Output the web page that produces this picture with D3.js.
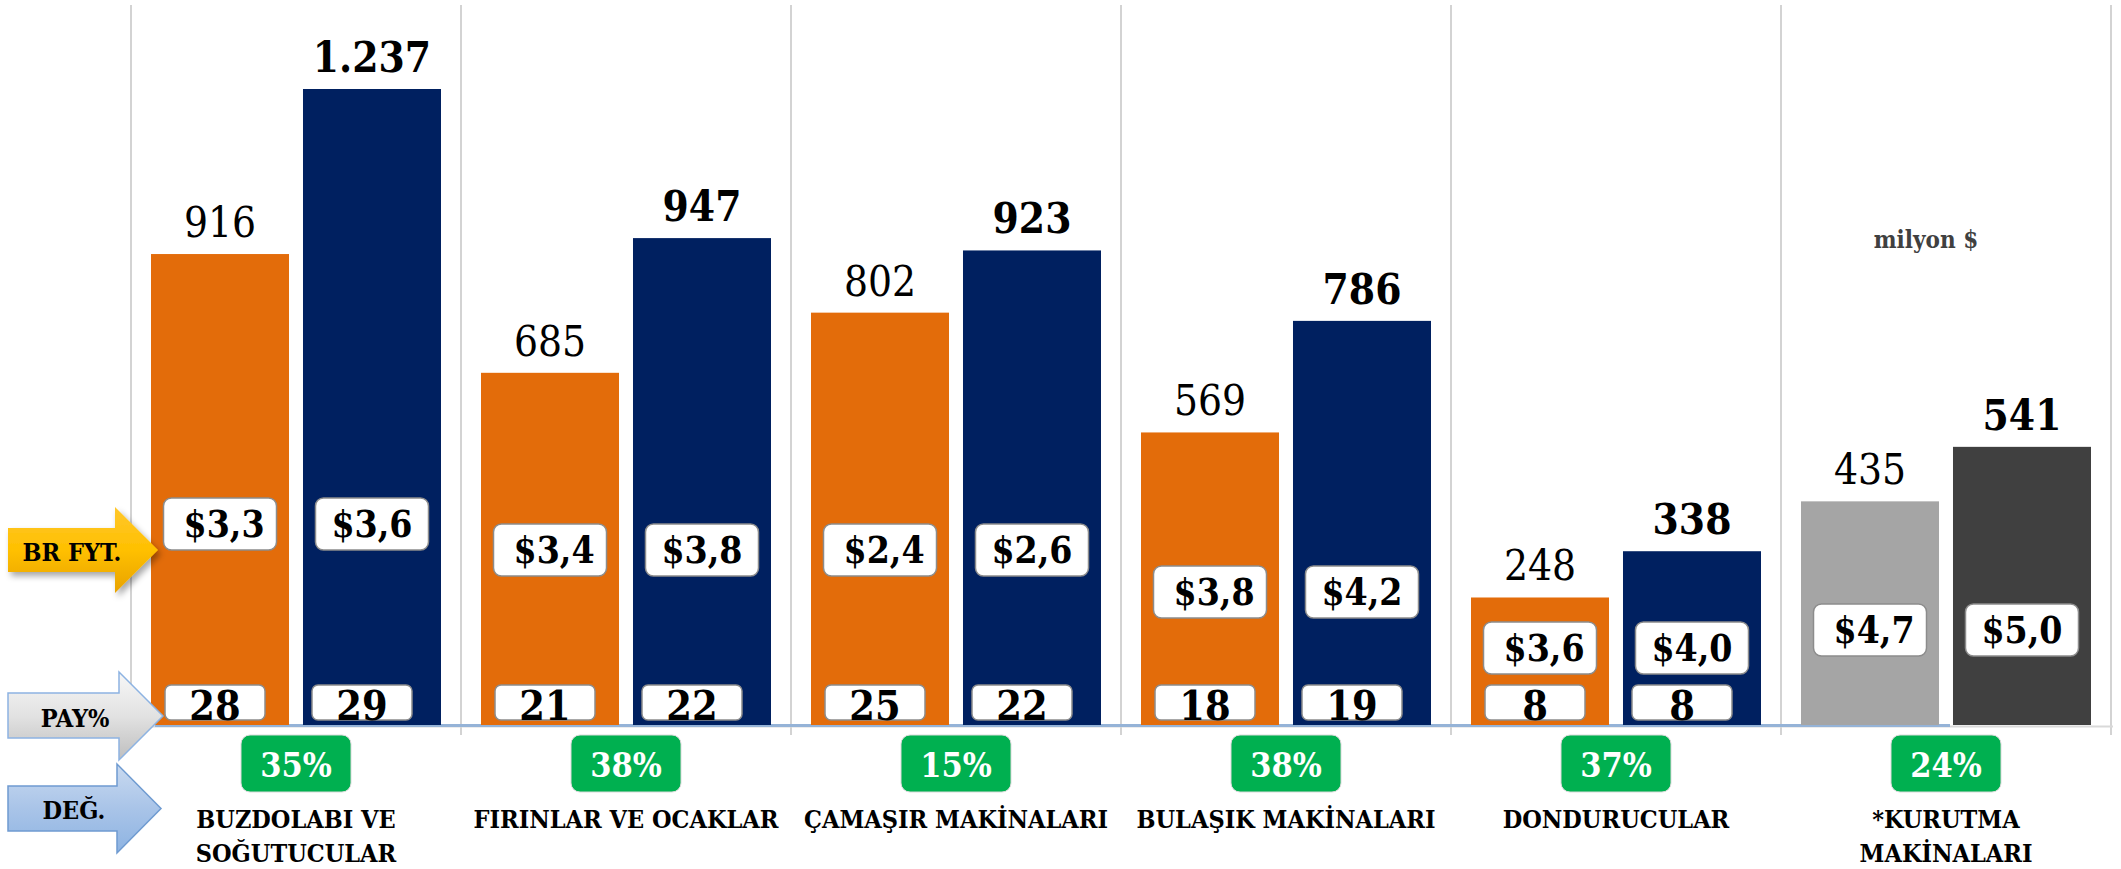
<!DOCTYPE html>
<html>
<head>
<meta charset="utf-8">
<script src="https://cdn.jsdelivr.net/npm/d3@7"></script>
<style>
  html, body { margin: 0; padding: 0; background: #ffffff; }
  svg { display: block; }
  text { font-family: "DejaVu Serif Condensed", "DejaVu Serif", serif; font-stretch: condensed; }
</style>
</head>
<body>
<svg id="chart" width="2121" height="869"></svg>
<script>
// ---------------- DATA ----------------
const categories = ["BUZDOLABI VE SOĞUTUCULAR", "FIRINLAR VE OCAKLAR", "ÇAMAŞIR MAKİNALARI", "BULAŞIK MAKİNALARI", "DONDURUCULAR", "*KURUTMA MAKİNALARI"];
const categoryLines = [["BUZDOLABI VE", "SOĞUTUCULAR"], ["FIRINLAR VE OCAKLAR"], ["ÇAMAŞIR MAKİNALARI"], ["BULAŞIK MAKİNALARI"], ["DONDURUCULAR"], ["*KURUTMA", "MAKİNALARI"]];
const series = ["prev", "curr"];
const valuesPrev = [916, 685, 802, 569, 248, 435];
const valuesCurr = [1237, 947, 923, 786, 338, 541];
const pricePrev = [3.3, 3.4, 2.4, 3.8, 3.6, 4.7];
const priceCurr = [3.6, 3.8, 2.6, 4.2, 4.0, 5.0];
const sharePrev = [28, 21, 25, 18, 8, null];
const shareCurr = [29, 22, 22, 19, 8, null];
const changePct = [35, 38, 15, 38, 37, 24];
const sideLabels = ["BR FYT.", "PAY%", "DEĞ."];
const unitLabel = "milyon $";

// ---------------- LAYOUT ----------------
const W = 2121, H = 869;
const baseY = 725;
const colorPrev = ["#E36C0A", "#E36C0A", "#E36C0A", "#E36C0A", "#E36C0A", "#A5A5A5"];
const colorCurr = ["#002060", "#002060", "#002060", "#002060", "#002060", "#404040"];
const priceBoxCenterY = [524, 550, 550, 592, 648, 630]; // label placement (px)

const svg = d3.select("#chart");
const defs = svg.append("defs");

const x0 = d3.scaleBand().domain(categories).range([131, 2111]).padding(0);
const x1 = d3.scaleBand().domain(series).range([0, x0.bandwidth()]).paddingInner(0.092).paddingOuter(0.1316);
const y = d3.scaleLinear().domain([0, 1237]).range([baseY, 89]);

// gradients
function vgrad(id, stops) {
  const g = defs.append("linearGradient").attr("id", id).attr("x1", 0).attr("y1", 0).attr("x2", 0).attr("y2", 1);
  stops.forEach(s => g.append("stop").attr("offset", s[0]).attr("stop-color", s[1]));
}
vgrad("gYellow", [[0, "#FFC72C"], [0.5, "#FFC000"], [1, "#E8A200"]]);
vgrad("gGray", [[0, "#F7F7F7"], [0.5, "#E2E2E2"], [1, "#BEBEBE"]]);
vgrad("gBlue", [[0, "#C9DAF0"], [0.5, "#A9C4E8"], [1, "#8DB3E2"]]);
const shadow = defs.append("filter").attr("id", "shadow").attr("x", "-20%").attr("y", "-20%").attr("width", "150%").attr("height", "150%");
shadow.append("feDropShadow").attr("dx", 3).attr("dy", 4).attr("stdDeviation", 3).attr("flood-color", "#000").attr("flood-opacity", 0.35);

// gridlines (category separators)
const bounds = categories.map(c => x0(c)).concat([x0(categories[categories.length - 1]) + x0.bandwidth()]);
svg.append("g").selectAll("line").data(bounds).join("line")
  .attr("x1", d => d).attr("x2", d => d)
  .attr("y1", 5).attr("y2", 735)
  .attr("stroke", "#C4C4C4").attr("stroke-width", 1.5);

// axis base line (gray) + blue connector line
svg.append("line").attr("x1", 131).attr("x2", 2113).attr("y1", 726.5).attr("y2", 726.5)
  .attr("stroke", "#D9D9D9").attr("stroke-width", 2);
svg.append("line").attr("x1", 155).attr("x2", 1950).attr("y1", 725.5).attr("y2", 725.5)
  .attr("stroke", "#95B3D7").attr("stroke-width", 3);

// bars
const rows = categories.map((c, i) => ({
  cat: c, i,
  bars: [
    { key: "prev", v: valuesPrev[i], price: pricePrev[i], share: sharePrev[i], color: colorPrev[i] },
    { key: "curr", v: valuesCurr[i], price: priceCurr[i], share: shareCurr[i], color: colorCurr[i] }
  ]
}));

const gCat = svg.append("g").selectAll("g.cat").data(rows).join("g")
  .attr("class", "cat")
  .attr("transform", d => `translate(${x0(d.cat)},0)`);

const gBar = gCat.selectAll("g.bar").data(d => d.bars.map(b => Object.assign({ i: d.i }, b))).join("g").attr("class", "bar");

gBar.append("rect")
  .attr("x", d => x1(d.key))
  .attr("width", x1.bandwidth())
  .attr("y", d => y(d.v))
  .attr("height", d => baseY - y(d.v))
  .attr("fill", d => d.color);

// value labels
const fmtThousands = v => d3.format(",")(v).replace(/,/g, ".");
gBar.append("text")
  .attr("x", d => x1(d.key) + x1.bandwidth() / 2)
  .attr("y", d => y(d.v) - 17)
  .attr("text-anchor", "middle")
  .attr("font-size", 42)
  .attr("font-weight", d => d.key === "curr" ? "bold" : "normal")
  .attr("fill", "#000")
  .text(d => fmtThousands(d.v));

// price boxes
const boxW = 113, boxH = 52;
const gPrice = gBar.append("g")
  .attr("transform", d => `translate(${x1(d.key) + x1.bandwidth() / 2},${priceBoxCenterY[d.i]})`);
gPrice.append("rect")
  .attr("x", -boxW / 2).attr("y", -boxH / 2).attr("width", boxW).attr("height", boxH)
  .attr("rx", 8).attr("fill", "#fff").attr("stroke", "#8C8C8C").attr("stroke-width", 1.5);
gPrice.append("text")
  .attr("text-anchor", "middle").attr("y", 13).attr("x", d => d.key === "prev" ? 4 : 0)
  .attr("font-size", 37).attr("font-weight", "bold").attr("fill", "#000")
  .text(d => "$" + d3.format(".1f")(d.price).replace(".", ","));

// share boxes
const shW = 100, shH = 35;
const gShare = gBar.filter(d => d.share != null).append("g")
  .attr("transform", d => `translate(${x1(d.key) + x1.bandwidth() / 2 + (d.key === "prev" ? -5 : -10)},${702.5})`);
gShare.append("rect")
  .attr("x", -shW / 2).attr("y", -shH / 2).attr("width", shW).attr("height", shH)
  .attr("rx", 6).attr("fill", "#fff").attr("stroke", "#8C8C8C").attr("stroke-width", 1.5);
gShare.append("text")
  .attr("text-anchor", "middle").attr("y", 17)
  .attr("font-size", 41).attr("font-weight", "bold").attr("fill", "#000")
  .text(d => d.share);

// change (green) boxes
const gChg = gCat.append("g").attr("transform", `translate(${x0.bandwidth() / 2},763.5)`);
gChg.append("rect")
  .attr("x", -55).attr("y", -28.5).attr("width", 110).attr("height", 57)
  .attr("rx", 9).attr("fill", "#00B050").attr("stroke", "#DADADA").attr("stroke-width", 1);
gChg.append("text")
  .attr("text-anchor", "middle").attr("y", 13)
  .attr("font-size", 34).attr("font-weight", "bold").attr("fill", "#fff")
  .text(d => changePct[d.i] + "%");

// category labels
gCat.append("text")
  .attr("text-anchor", "middle")
  .attr("font-size", 25).attr("font-weight", "bold").attr("fill", "#000")
  .selectAll("tspan").data(d => categoryLines[d.i]).join("tspan")
  .attr("x", x0.bandwidth() / 2)
  .attr("y", (d, k) => 828 + k * 34)
  .text(d => d);

// unit label
svg.append("text")
  .attr("x", 1926).attr("y", 248)
  .attr("text-anchor", "middle").attr("font-size", 24).attr("font-weight", "bold").attr("fill", "#404040")
  .text(unitLabel);

// side arrows
function arrowPath(x0a, bodyTop, bodyBot, headX, headTop, headBot, tipX) {
  const mid = (headTop + headBot) / 2;
  return `M${x0a},${bodyTop}L${headX},${bodyTop}L${headX},${headTop}L${tipX},${mid}L${headX},${headBot}L${headX},${bodyBot}L${x0a},${bodyBot}Z`;
}
const arrows = [
  { label: sideLabels[0], d: arrowPath(8, 528, 572, 115, 507, 593, 158), fill: "url(#gYellow)", stroke: "none", shadow: true, tx: 72, ty: 561 },
  { label: sideLabels[1], d: arrowPath(8, 693, 738, 119, 672, 760, 163), fill: "url(#gGray)", stroke: "#8DB3E2", shadow: false, tx: 75, ty: 727 },
  { label: sideLabels[2], d: arrowPath(8, 786, 831, 117, 764, 853, 161), fill: "url(#gBlue)", stroke: "#6F9BD1", shadow: false, tx: 74, ty: 819 }
];
const gA = svg.append("g").selectAll("g").data(arrows).join("g");
gA.append("path").attr("d", d => d.d).attr("fill", d => d.fill)
  .attr("stroke", d => d.stroke).attr("stroke-width", 1.5)
  .attr("filter", d => d.shadow ? "url(#shadow)" : null);
gA.append("text").attr("x", d => d.tx).attr("y", d => d.ty)
  .attr("text-anchor", "middle").attr("font-size", 25).attr("font-weight", "bold").attr("fill", "#000")
  .text(d => d.label);
</script>
</body>
</html>
